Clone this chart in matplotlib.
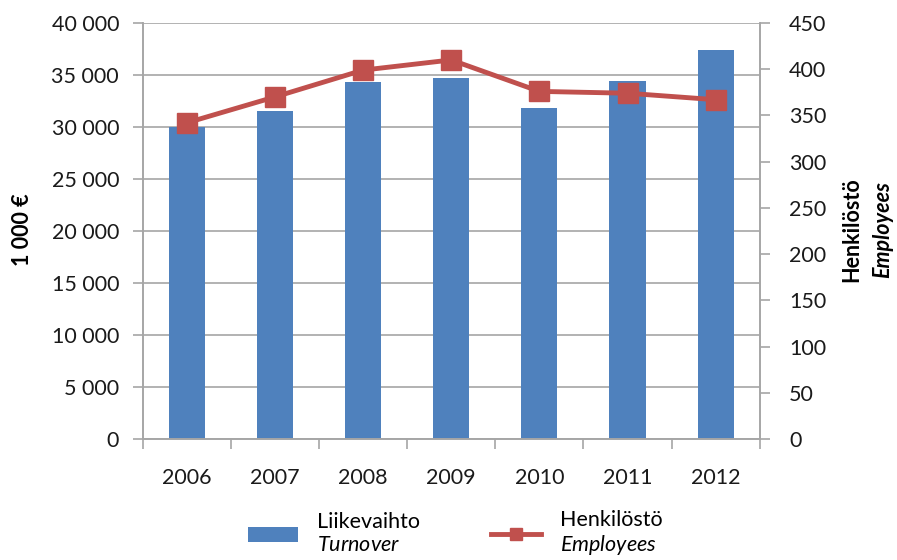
import numpy as np
import matplotlib
matplotlib.use("Agg")
from matplotlib import pyplot as plt
from matplotlib.ticker import FuncFormatter, MultipleLocator, FixedLocator, NullFormatter

plt.rcParams['font.family'] = ['Lato', 'DejaVu Sans']
plt.rcParams['mathtext.fontset'] = 'custom'
plt.rcParams['mathtext.rm'] = 'Lato'
plt.rcParams['mathtext.it'] = 'Lato:italic'
plt.rcParams['mathtext.bf'] = 'Lato:bold'

years = ['2006', '2007', '2008', '2009', '2010', '2011', '2012']
turnover = [30000, 31500, 34300, 34700, 31800, 34400, 37400]   # 1 000 €
employees = [342, 370, 399, 410, 376, 374, 367]

blue = '#4F81BD'
red = '#C0504D'
grey = '#A6A6A6'
fs = 15.5

fig = plt.figure(figsize=(8.97, 5.60), dpi=100)
ax = fig.add_axes([0.159, 0.216, 0.688, 0.743])
ax2 = ax.twinx()

x = np.arange(len(years))
bars = ax.bar(x, turnover, width=0.41, color=blue, zorder=2, label='Liikevaihto\n$\\it{Turnover}$')
line, = ax2.plot(x, employees, color=red, lw=3.5, marker='s', ms=14, zorder=3,
                 label='Henkilöstö\n$\\it{Employees}$')

ax.set_xlim(-0.5, len(years) - 0.5)
ax.set_ylim(0, 40000)
ax2.set_ylim(0, 450)
ax.yaxis.set_major_locator(MultipleLocator(5000))
ax2.yaxis.set_major_locator(MultipleLocator(50))
ax.yaxis.set_major_formatter(FuncFormatter(lambda v, p: f'{int(v):,}'.replace(',', ' ')))
ax.grid(axis='y', color=grey, lw=1.2, zorder=0)
ax.set_axisbelow(True)

ax.set_xticks(x)
ax.set_xticklabels(years)
ax.xaxis.set_minor_locator(FixedLocator(np.arange(-0.5, len(years), 1.0)))
ax.xaxis.set_minor_formatter(NullFormatter())
ax.tick_params(axis='x', which='major', length=0, pad=21)
ax.tick_params(axis='x', which='minor', length=7, color=grey, width=1.2)
ax.tick_params(axis='y', length=7, color=grey, width=1.2, pad=10)
ax2.tick_params(axis='y', length=7, color=grey, width=1.2, pad=14)
for a in (ax, ax2):
    a.tick_params(labelsize=fs, labelcolor='#1a1a1a')
    for s in a.spines.values():
        s.set_color(grey)
        s.set_linewidth(1.2)
    a.spines['top'].set_visible(False)

fig.text(0.025, 0.59, '1 000 €', rotation=90, fontsize=fs, fontweight='bold',
         ha='center', va='center')
fig.text(0.950, 0.59, 'Henkilöstö', rotation=90, fontsize=fs, fontweight='bold',
         ha='center', va='center')
fig.text(0.984, 0.59, 'Employees', rotation=90, fontsize=fs, fontweight='bold',
         style='italic', ha='center', va='center')

fig.legend(handles=[bars, line], loc='lower center', bbox_to_anchor=(0.508, -0.03),
           ncol=2, frameon=False, fontsize=fs, handlelength=2.3, columnspacing=3.3,
           handletextpad=0.9, markerscale=0.65, labelspacing=0.2)

fig.savefig('out.png', dpi=100)
